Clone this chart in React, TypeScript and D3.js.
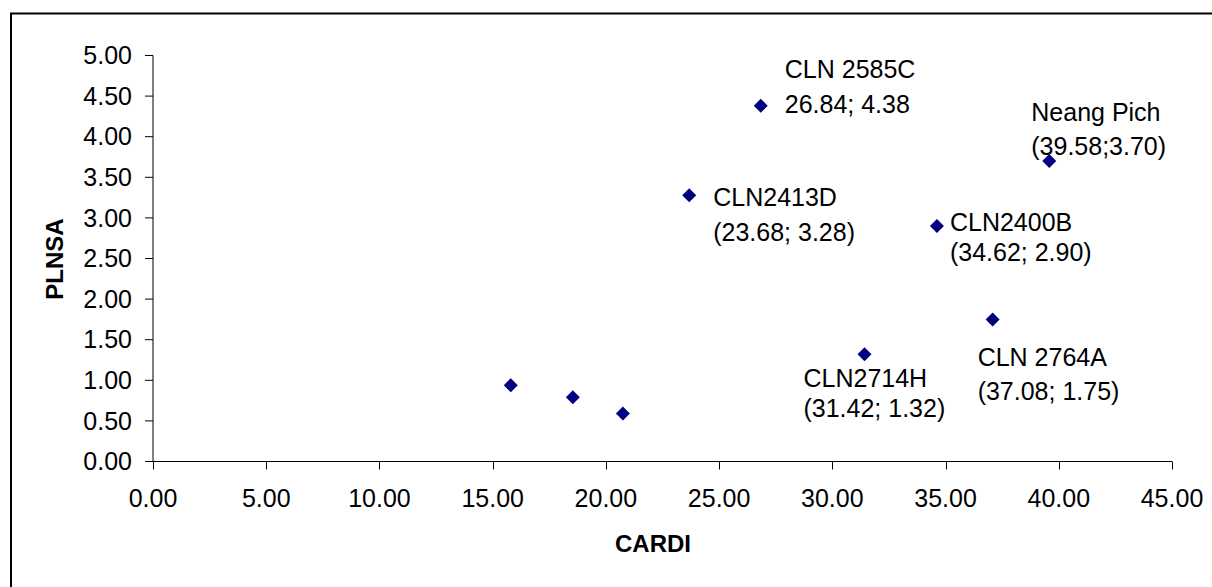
import React from "react";
import * as d3 from "d3";

// ---- data ----
const cardi = [15.8, 18.54, 20.75, 23.68, 26.84, 31.42, 34.62, 37.08, 39.58];
const plnsa = [0.94, 0.79, 0.59, 3.28, 4.38, 1.32, 2.9, 1.75, 3.7];
const labelLine1 = ["", "", "", "CLN2413D", "CLN 2585C", "CLN2714H", "CLN2400B", "CLN 2764A", "Neang Pich"];
const labelLine2 = ["", "", "", "(23.68; 3.28)", "26.84; 4.38", "(31.42; 1.32)", "(34.62; 2.90)", "(37.08; 1.75)", "(39.58;3.70)"];
const xTicks = [0, 5, 10, 15, 20, 25, 30, 35, 40, 45];
const yTicks = [0, 0.5, 1, 1.5, 2, 2.5, 3, 3.5, 4, 4.5, 5];
const xTitle = "CARDI";
const yTitle = "PLNSA";

// ---- label layout (offsets from the point, px) ----
const labelOffsets: [number, number, number][] = [
  [0, 0, 0],
  [0, 0, 0],
  [0, 0, 0],
  [24, 11, 46],
  [24, -28, 7],
  [-61, 33, 63],
  [13, 5, 35],
  [-15, 47, 81],
  [-18, -40, -6],
];

const W = 1212;
const H = 587;
const FONT = "'Liberation Sans', Arial, sans-serif";

export default function App() {
  const x = d3.scaleLinear().domain([0, 45]).range([153, 1172]);
  const y = d3.scaleLinear().domain([0, 5]).range([461.5, 55.5]);
  const fmt = d3.format(".2f");
  const r = 7;
  const diamond = `M0,${-r}L${r},0L0,${r}L${-r},0Z`;
  const x0 = x(0);
  const y0 = y(0);

  return (
    <svg
      width={W}
      height={H}
      style={{ position: "absolute", left: 0, top: 0, display: "block" }}
      fontFamily={FONT}
    >
      <rect x={0} y={0} width={W} height={H} fill="#fff" />
      <rect x={11} y={13.5} width={1220} height={600} fill="none" stroke="#000" strokeWidth={2} />

      {/* Y axis */}
      <line x1={x0} x2={x0} y1={y(5)} y2={y0} stroke="#000" strokeWidth={1} />
      {yTicks.map((t) => (
        <g key={"y" + t}>
          <line x1={x0 - 8} x2={x0} y1={y(t)} y2={y(t)} stroke="#000" strokeWidth={1} />
          <text x={132} y={y(t)} dy="0.35em" textAnchor="end" fontSize={25} fill="#000">
            {fmt(t)}
          </text>
        </g>
      ))}

      {/* X axis */}
      <line x1={x0} x2={x(45)} y1={y0} y2={y0} stroke="#000" strokeWidth={1} />
      {xTicks.map((t) => (
        <g key={"x" + t}>
          <line x1={Math.round(x(t)) + 0.5} x2={Math.round(x(t)) + 0.5} y1={y0} y2={y0 + 8} stroke="#000" strokeWidth={1} />
          <text x={x(t)} y={y0 + 45} textAnchor="middle" fontSize={25} fill="#000">
            {fmt(t)}
          </text>
        </g>
      ))}

      {/* titles */}
      <text x={653} y={552} textAnchor="middle" fontSize={24} fontWeight="bold" fill="#000">
        {xTitle}
      </text>
      <text
        transform={`translate(63,259) rotate(-90)`}
        textAnchor="middle"
        fontSize={24}
        fontWeight="bold"
        fill="#000"
      >
        {yTitle}
      </text>

      {/* points */}
      {cardi.map((c, i) => (
        <path key={"p" + i} d={diamond} transform={`translate(${x(c)},${y(plnsa[i])})`} fill="#000080" />
      ))}

      {/* labels */}
      {cardi.map((c, i) =>
        labelLine1[i] ? (
          <g key={"l" + i} fontSize={25} fill="#000">
            <text x={x(c) + labelOffsets[i][0]} y={y(plnsa[i]) + labelOffsets[i][1]}>
              {labelLine1[i]}
            </text>
            <text x={x(c) + labelOffsets[i][0]} y={y(plnsa[i]) + labelOffsets[i][2]}>
              {labelLine2[i]}
            </text>
          </g>
        ) : null
      )}
    </svg>
  );
}
